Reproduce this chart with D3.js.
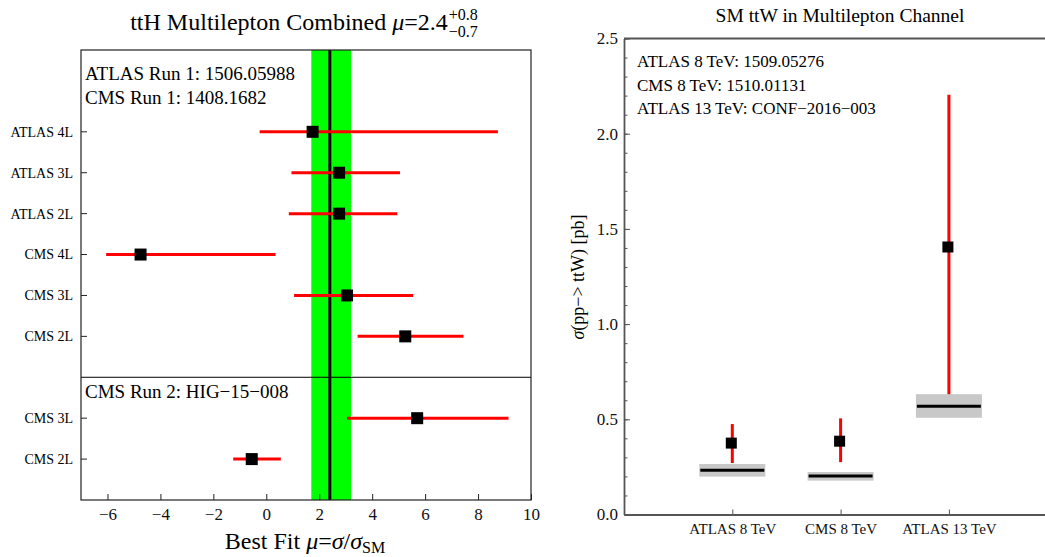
<!DOCTYPE html>
<html>
<head>
<meta charset="utf-8">
<script src="https://cdn.jsdelivr.net/npm/d3@7"></script>
<style>
  body { margin: 0; background: #fff; }
  svg { font-family: "Liberation Serif", "Times New Roman", serif; }
</style>
</head>
<body>
<div id="chart"></div>
<script>
// left panel: ttH signal strength fits
const runOneLabels = ["ATLAS 4L", "ATLAS 3L", "ATLAS 2L", "CMS 4L", "CMS 3L", "CMS 2L"];
const runOneMu = [1.75, 2.75, 2.75, -4.75, 3.05, 5.25];
const runOneLo = [-0.25, 0.95, 0.85, -6.05, 1.05, 3.45];
const runOneHi = [8.75, 5.05, 4.95, 0.35, 5.55, 7.45];

const runTwoLabels = ["CMS 3L", "CMS 2L"];
const runTwoMu = [5.7, -0.55];
const runTwoLo = [3.05, -1.25];
const runTwoHi = [9.15, 0.55];

const combinedMu = 2.4;
const combinedUp = 0.8;
const combinedDown = 0.7;

const muTicks = [-6, -4, -2, 0, 2, 4, 6, 8, 10];

// right panel: ttW cross sections
const ttwCategories = ["ATLAS 8 TeV", "CMS 8 TeV", "ATLAS 13 TeV"];
const ttwMeasured = [0.375, 0.385, 1.405];
const ttwLo = [0.27, 0.275, 0.6];
const ttwHi = [0.475, 0.505, 2.205];
const smCentral = [0.232, 0.202, 0.568];
const smLo = [0.199, 0.178, 0.508];
const smHi = [0.265, 0.223, 0.632];
const xsecTicks = [0.0, 0.5, 1.0, 1.5, 2.0, 2.5];

const W = 1045, H = 557;
const svg = d3.select("#chart").append("svg")
  .attr("width", W)
  .attr("height", H);

// ---------- left panel ----------
const L = { left: 81, right: 531, top: 50, bottom: 500 };
const x = d3.scaleLinear().domain([-7, 10]).range([L.left, L.right]);
const row = d3.scaleLinear().domain([0, 11]).range([L.top, L.bottom]);

const runOne = runOneLabels.map((d, i) => ({ label: d, mu: runOneMu[i], lo: runOneLo[i], hi: runOneHi[i], r: i + 2 }));
const runTwo = runTwoLabels.map((d, i) => ({ label: d, mu: runTwoMu[i], lo: runTwoLo[i], hi: runTwoHi[i], r: i + 9 }));
const rows = runOne.concat(runTwo);

const left = svg.append("g");

// combined band + central value
left.append("rect")
  .attr("x", x(combinedMu - combinedDown))
  .attr("y", L.top)
  .attr("width", x(combinedMu + combinedUp) - x(combinedMu - combinedDown))
  .attr("height", L.bottom - L.top)
  .attr("fill", "#00ff00");

left.append("line")
  .attr("x1", x(combinedMu)).attr("x2", x(combinedMu))
  .attr("y1", L.top).attr("y2", L.bottom)
  .attr("stroke", "#000").attr("stroke-width", 3);

// separator between run 1 and run 2
left.append("line")
  .attr("x1", L.left).attr("x2", L.right)
  .attr("y1", row(8)).attr("y2", row(8))
  .attr("stroke", "#000").attr("stroke-width", 1);

left.selectAll(".err").data(rows).join("line")
  .attr("x1", d => x(d.lo)).attr("x2", d => x(d.hi))
  .attr("y1", d => row(d.r)).attr("y2", d => row(d.r))
  .attr("stroke", "#ff0000").attr("stroke-width", 3);

const sq = 12;
left.selectAll(".pt").data(rows).join("rect")
  .attr("x", d => x(d.mu) - sq / 2)
  .attr("y", d => row(d.r) - sq / 2)
  .attr("width", sq).attr("height", sq)
  .attr("fill", "#000");

// frame
left.append("rect")
  .attr("x", L.left).attr("y", L.top)
  .attr("width", L.right - L.left).attr("height", L.bottom - L.top)
  .attr("fill", "none").attr("stroke", "#222").attr("stroke-width", 1.2);

// y ticks + labels
left.selectAll(".ytick").data(rows).join("line")
  .attr("x1", L.left).attr("x2", L.left + 6)
  .attr("y1", d => row(d.r)).attr("y2", d => row(d.r))
  .attr("stroke", "#222");
left.selectAll(".ylab").data(rows).join("text")
  .attr("x", L.left - 8)
  .attr("y", d => row(d.r))
  .attr("dy", "0.35em")
  .attr("text-anchor", "end")
  .attr("font-size", 14)
  .text(d => d.label);

// x axis
const xAxis = left.append("g")
  .attr("transform", `translate(0,${L.bottom})`)
  .call(d3.axisBottom(x).tickValues(muTicks).tickSizeInner(-6).tickSizeOuter(0).tickPadding(8));
xAxis.attr("font-family", null);
xAxis.select(".domain").remove();
xAxis.selectAll(".tick line").attr("stroke", "#222");
xAxis.selectAll("text").attr("font-size", 17).attr("fill", "#111");

// annotations
left.append("text").attr("x", 85).attr("y", 80).attr("font-size", 19).text("ATLAS Run 1: 1506.05988");
left.append("text").attr("x", 85).attr("y", 104).attr("font-size", 19).text("CMS Run 1: 1408.1682");
left.append("text").attr("x", 85).attr("y", 398).attr("font-size", 19).text("CMS Run 2: HIG\u221215\u2212008");

// title with stacked super/subscript
const title = left.append("text").attr("y", 30).attr("font-size", 24);
title.append("tspan").text("ttH Multilepton Combined ");
title.append("tspan").attr("font-style", "italic").text("\u03bc");
title.append("tspan").text("=" + combinedMu.toFixed(1));
const tw = title.node().getComputedTextLength();
const supText = "+" + combinedUp.toFixed(1);
const subText = "\u2212" + combinedDown.toFixed(1);
const tx0 = 304 - (tw + 30) / 2;
title.attr("x", tx0);
left.append("text").attr("x", tx0 + tw + 1).attr("y", 20).attr("font-size", 16).text(supText);
left.append("text").attr("x", tx0 + tw + 1).attr("y", 37).attr("font-size", 16).text(subText);

// x title
const xt = left.append("text").attr("x", 305).attr("y", 549).attr("text-anchor", "middle").attr("font-size", 24);
xt.append("tspan").text("Best Fit ");
xt.append("tspan").attr("font-style", "italic").text("\u03bc");
xt.append("tspan").text("=");
xt.append("tspan").attr("font-style", "italic").text("\u03c3");
xt.append("tspan").text("/");
xt.append("tspan").attr("font-style", "italic").text("\u03c3");
xt.append("tspan").attr("font-size", 16).attr("dy", 4).text("SM");

// ---------- right panel ----------
const R = { left: 624, top: 38.5, bottom: 514.5 };
const cx = d3.scaleLinear().domain([0, 4]).range([R.left, R.left + 4 * 108.3]);
const y = d3.scaleLinear().domain([0, 2.5]).range([R.bottom, R.top]);

const ttw = ttwCategories.map((c, i) => ({
  cat: c, pos: i + 1, m: ttwMeasured[i], lo: ttwLo[i], hi: ttwHi[i],
  sm: smCentral[i], smLo: smLo[i], smHi: smHi[i]
}));

const right = svg.append("g");

right.selectAll(".err").data(ttw).join("line")
  .attr("x1", d => cx(d.pos)).attr("x2", d => cx(d.pos))
  .attr("y1", d => y(d.lo)).attr("y2", d => y(d.hi))
  .attr("stroke", "#ff0000").attr("stroke-width", 3);

const bw = 66;
right.selectAll(".band").data(ttw).join("rect")
  .attr("x", d => cx(d.pos) - bw / 2)
  .attr("y", d => y(d.smHi))
  .attr("width", bw)
  .attr("height", d => y(d.smLo) - y(d.smHi))
  .attr("fill", "#c8c8c8");

right.selectAll(".smline").data(ttw).join("line")
  .attr("x1", d => cx(d.pos) - 32).attr("x2", d => cx(d.pos) + 32)
  .attr("y1", d => y(d.sm)).attr("y2", d => y(d.sm))
  .attr("stroke", "#000").attr("stroke-width", 3);

const sq2 = 11;
right.selectAll(".pt").data(ttw).join("rect")
  .attr("x", d => cx(d.pos) - sq2 / 2 - 1)
  .attr("y", d => y(d.m) - sq2 / 2)
  .attr("width", sq2).attr("height", sq2)
  .attr("fill", "#000");

// y axis with minor ticks
const yMinor = right.append("g")
  .attr("transform", `translate(${R.left},0)`)
  .call(d3.axisLeft(y).ticks(25).tickSizeInner(-3.5).tickSizeOuter(0).tickFormat(""));
yMinor.select(".domain").remove();
yMinor.selectAll(".tick line").attr("stroke", "#555");

const yAxis = right.append("g")
  .attr("transform", `translate(${R.left},0)`)
  .call(d3.axisLeft(y).tickValues(xsecTicks).tickSizeInner(-6).tickSizeOuter(0).tickPadding(6).tickFormat(d3.format(".1f")));
yAxis.attr("font-family", null);
yAxis.select(".domain").attr("stroke", "#555").attr("stroke-width", 1.8);
yAxis.selectAll(".tick line").attr("stroke", "#555");
yAxis.selectAll("text").attr("font-size", 17).attr("fill", "#111");

const xAxisR = right.append("g")
  .attr("transform", `translate(0,${R.bottom})`)
  .call(d3.axisBottom(cx).tickValues(ttw.map(d => d.pos)).tickSizeInner(-5).tickSizeOuter(0).tickPadding(9)
    .tickFormat((d, i) => ttwCategories[i]));
xAxisR.attr("font-family", null);
xAxisR.select(".domain").attr("stroke", "#555").attr("stroke-width", 1.8);
xAxisR.selectAll(".tick line").attr("stroke", "#555");
xAxisR.selectAll("text").attr("font-size", 15).attr("fill", "#111");

// top frame line
right.append("line")
  .attr("x1", R.left).attr("x2", W)
  .attr("y1", R.top).attr("y2", R.top)
  .attr("stroke", "#555").attr("stroke-width", 1.8);

// annotations
const notes = ["ATLAS 8 TeV: 1509.05276", "CMS 8 TeV: 1510.01131", "ATLAS 13 TeV: CONF\u22122016\u2212003"];
right.selectAll(".note").data(notes).join("text")
  .attr("x", 637)
  .attr("y", (d, i) => 67 + i * 23.5)
  .attr("font-size", 17)
  .text(d => d);

right.append("text")
  .attr("x", 840).attr("y", 22)
  .attr("text-anchor", "middle")
  .attr("font-size", 19.5)
  .text("SM ttW in Multilepton Channel");

const yt = right.append("text")
  .attr("transform", "translate(584,277) rotate(-90)")
  .attr("text-anchor", "middle")
  .attr("font-size", 18);
yt.append("tspan").attr("font-style", "italic").text("\u03c3");
yt.append("tspan").text("(pp\u2212> ttW) [pb]");
</script>
</body>
</html>
